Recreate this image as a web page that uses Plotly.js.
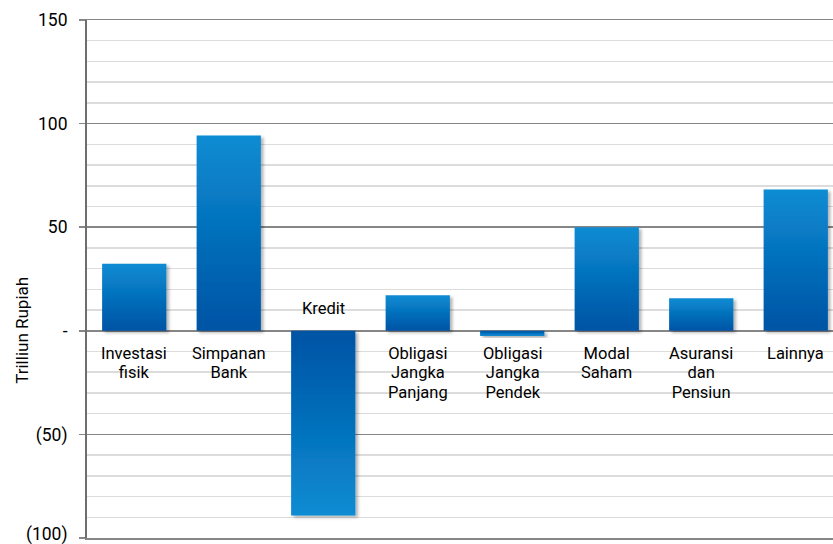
<!DOCTYPE html>
<html>
<head>
<meta charset="utf-8">
<script src="https://cdn.plot.ly/plotly-3.0.1.min.js"></script>
<style>
  html, body { margin: 0; padding: 0; overflow: hidden; background: #fff; }
  #chart { width: 845px; height: 544px; }
</style>
</head>
<body>
<div id="chart"></div>
<script>
// Sektor penggunaan dana (triliun rupiah)
const categories = ["Investasi fisik", "Simpanan Bank", "Kredit", "Obligasi Jangka Panjang",
                    "Obligasi Jangka Pendek", "Modal Saham", "Asuransi dan Pensiun", "Lainnya"];
const labels = ["Investasi<br>fisik", "Simpanan<br>Bank", "Kredit", "Obligasi<br>Jangka<br>Panjang",
                "Obligasi<br>Jangka<br>Pendek", "Modal<br>Saham", "Asuransi<br>dan<br>Pensiun", "Lainnya"];
const values = [32.4, 94.3, -89.1, 17.1, -2.5, 50.0, 15.7, 68.2];
const tickVals = [-100, -50, 0, 50, 100, 150];
const tickText = ["(100)", "(50)", "-", "50", "100", "150"];

const FONT = "Roboto, 'Open Sans', sans-serif";

const trace = {
  type: "bar",
  x: categories,
  y: values,
  marker: { color: "#0070BE", line: { width: 0 } },
  hoverinfo: "skip"
};

// Category labels sit on the zero line: under it, unless a long negative bar is in the way
const annotations = categories.map((c, i) => {
  const above = values[i] < -20;
  return {
    x: c, y: 0, xref: "x", yref: "y",
    text: labels[i],
    showarrow: false,
    yanchor: above ? "bottom" : "top",
    yshift: above ? 11 : -11,
    font: { family: FONT, size: 16.5, color: "#000" },
    align: "center"
  };
});

// Axis title, centred on the zero line
annotations.push({
  xref: "paper", yref: "y", x: 0, y: 0,
  xshift: -65, xanchor: "center", yanchor: "middle",
  text: "Trilliun Rupiah", textangle: -90, showarrow: false,
  font: { family: FONT, size: 17, color: "#000" }
});

const layout = {
  width: 845, height: 544,
  margin: { l: 87, r: 2, t: 20, b: 6 },
  paper_bgcolor: "#fff", plot_bgcolor: "#fff",
  showlegend: false,
  bargap: 0.32,
  hovermode: false,
  xaxis: {
    type: "category",
    showticklabels: false, ticks: "",
    showgrid: false, zeroline: false,
    showline: true, mirror: true, linecolor: "#868686", linewidth: 1.5
  },
  yaxis: {
    range: [-100, 150],
    tickvals: tickVals, ticktext: tickText,
    ticks: "outside", ticklen: 6, tickwidth: 1.5, tickcolor: "#868686",
    ticklabelstandoff: 8,
    ticklabeloverflow: "allow",
    tickfont: { family: FONT, size: 17.5, color: "#000" },
    showgrid: true, gridcolor: "#868686", gridwidth: 1.5,
    zeroline: true, zerolinecolor: "#868686", zerolinewidth: 1.5,
    showline: true, linecolor: "#6e6e6e", linewidth: 2,
    minor: { dtick: 10, showgrid: true, gridcolor: "#dcdcdc", gridwidth: 1.5, ticks: "" }
  },
  annotations: annotations
};

const gd = document.getElementById("chart");
Plotly.newPlot(gd, [trace], layout, { staticPlot: true, displayModeBar: false }).then(() => {
  const NS = "http://www.w3.org/2000/svg";
  const svg = gd.querySelector("svg.main-svg");
  let defs = svg.querySelector("defs");
  if (!defs) { defs = document.createElementNS(NS, "defs"); svg.insertBefore(defs, svg.firstChild); }

  // Bars fade from bright blue at the tip to deep blue at the zero line
  function gradient(id, topColor, bottomColor) {
    const g = document.createElementNS(NS, "linearGradient");
    g.setAttribute("id", id);
    g.setAttribute("x1", "0"); g.setAttribute("y1", "0");
    g.setAttribute("x2", "0"); g.setAttribute("y2", "1");
    [[0, topColor], [1, bottomColor]].forEach(([o, c]) => {
      const s = document.createElementNS(NS, "stop");
      s.setAttribute("offset", o); s.setAttribute("stop-color", c);
      g.appendChild(s);
    });
    defs.appendChild(g);
  }
  gradient("barUp", "#0A8CD3", "#0053A4");
  gradient("barDown", "#0053A4", "#0A8CD3");

  const f = document.createElementNS(NS, "filter");
  f.setAttribute("id", "barShadow");
  f.setAttribute("x", "-20%"); f.setAttribute("y", "-20%");
  f.setAttribute("width", "140%"); f.setAttribute("height", "140%");
  const ds = document.createElementNS(NS, "feDropShadow");
  ds.setAttribute("dx", "2.5"); ds.setAttribute("dy", "2");
  ds.setAttribute("stdDeviation", "1.6");
  ds.setAttribute("flood-color", "#000"); ds.setAttribute("flood-opacity", "0.3");
  f.appendChild(ds);
  defs.appendChild(f);

  gd.querySelectorAll(".barlayer .point path").forEach((p, i) => {
    p.style.fill = values[i] >= 0 ? "url(#barUp)" : "url(#barDown)";
    p.setAttribute("filter", "url(#barShadow)");
  });

  // Tighter line spacing for the stacked category labels
  gd.querySelectorAll(".annotation-text tspan.line").forEach(t => {
    const dy = t.getAttribute("dy");
    if (dy && dy.endsWith("em")) {
      const v = parseFloat(dy);
      if (v > 0) t.setAttribute("dy", (v * 1.18 / 1.3).toFixed(3) + "em");
    }
  });

  // Lift the lowest tick label so it stays inside the figure
  gd.querySelectorAll(".ytick text").forEach(t => {
    if (t.textContent === tickText[0]) {
      t.setAttribute("y", (parseFloat(t.getAttribute("y") || 0) - 4).toString());
    }
  });
});
</script>
</body>
</html>
